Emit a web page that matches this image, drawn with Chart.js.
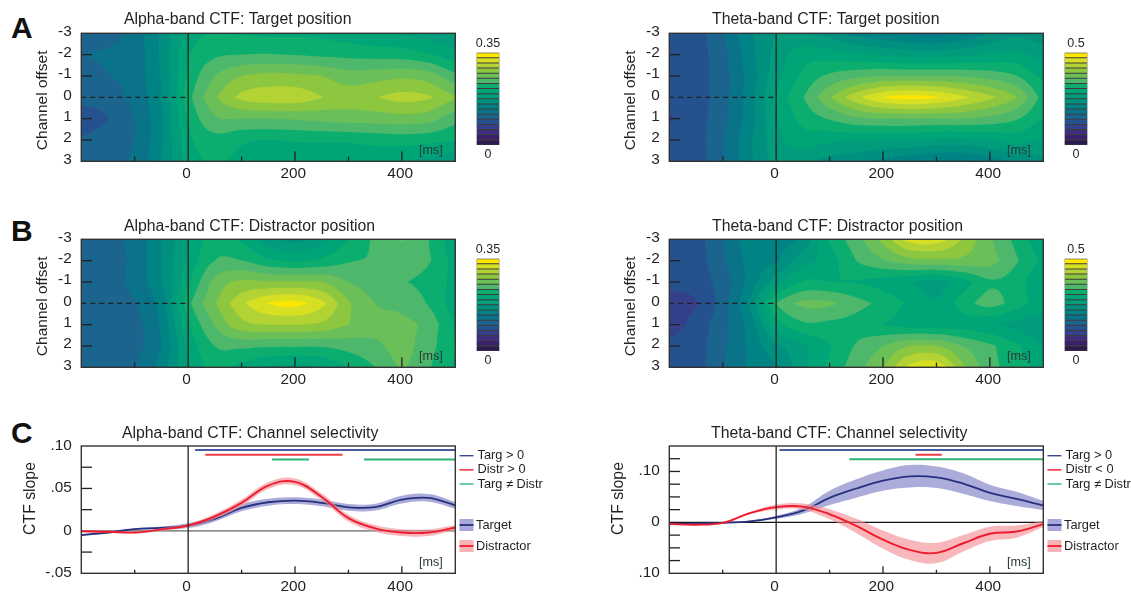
<!DOCTYPE html>
<html><head><meta charset="utf-8">
<style>
html,body{margin:0;padding:0;background:#fff;width:1131px;height:594px;overflow:hidden}
canvas{position:absolute;display:block}
.letter{position:absolute;font:bold 30px "Liberation Sans",Arial,sans-serif;color:#111;line-height:30px}
</style>
<script src="https://cdn.jsdelivr.net/npm/chart.js@4"></script>
</head><body>
<div class="letter" style="left:11px;top:13px">A</div>
<div class="letter" style="left:11px;top:216px">B</div>
<div class="letter" style="left:11px;top:418px">C</div>
<script>
// ---------- heat-map axes ----------
const heatTimes = [-200,-150,-100,-50,0,50,100,150,200,250,300,350,400,450,500];
const heatOffsets = [-3,-2,-1,0,1,2,3];
const alphaMax = 0.35, thetaMax = 0.5, stepCount = 18;
const alphaTargetSteps = [
 [5.5,5.6,6.5,8.2,10.4,11.05,10.9,10.8,10.8,10.7,10.4,10.1,9.9,9.4,9.1],
 [6.0,6.2,6.5,8.2,10.9,11.8,12.0,12.05,11.95,11.8,11.7,11.6,11.5,11.1,10.4],
 [5.6,5.95,6.5,8.1,11.15,13.0,14.0,14.3,14.25,14.0,13.5,13.6,13.8,13.5,12.3],
 [5.3,5.5,6.4,8.0,11.6,13.85,15.3,15.7,15.7,15.05,14.6,14.95,15.4,15.15,14.2],
 [4.5,4.95,6.0,7.9,11.1,12.85,13.0,13.0,13.1,13.3,13.5,13.5,13.6,13.4,12.4],
 [5.1,5.5,6.0,7.9,10.7,11.6,11.1,11.0,11.05,11.1,11.1,11.3,11.4,11.3,11.05],
 [5.4,5.6,6.25,8.0,10.4,11.1,10.7,10.5,10.5,10.4,10.3,10.2,10.0,9.6,9.2]];
const alphaDistractorSteps = [
 [5.5,5.6,6.4,8.0,10.0,11.4,10.8,9.4,8.7,9.5,11.0,12.2,13.05,12.0,10.4],
 [5.5,5.6,6.3,8.0,10.2,12.0,12.0,11.2,10.9,11.2,11.9,12.1,12.5,12.1,10.7],
 [5.4,5.5,6.4,8.0,10.8,13.3,14.2,14.1,14.1,14.0,13.0,12.5,12.1,11.6,10.8],
 [5.4,5.5,5.95,7.5,11.7,13.9,15.75,17.05,17.35,16.3,14.2,13.0,12.7,11.9,10.6],
 [5.4,5.5,5.7,7.2,10.8,13.1,14.7,15.0,15.0,14.8,14.0,13.4,13.3,12.65,10.9],
 [5.4,5.5,5.7,7.0,10.2,12.0,12.2,12.1,12.1,12.1,12.4,12.8,13.3,12.4,11.0],
 [5.4,5.5,5.95,7.5,9.9,11.3,10.6,9.9,9.6,10.0,11.0,12.0,13.05,12.1,10.9]];
const thetaTargetSteps = [
 [4.4,4.6,5.9,7.75,9.0,9.0,8.5,7.6,7.1,6.8,6.6,7.0,8.0,8.7,8.4],
 [4.4,4.6,5.7,7.6,9.3,10.6,10.5,10.2,9.9,9.6,9.6,9.8,10.1,10.3,9.5],
 [4.4,4.6,5.55,7.4,9.6,11.2,12.2,12.7,13.0,13.0,13.0,12.9,12.6,12.0,10.8],
 [4.3,4.6,5.6,7.6,10.2,11.95,13.9,15.7,17.0,17.45,17.1,16.2,15.25,14.05,11.7],
 [3.9,4.6,5.7,7.5,9.9,11.3,12.1,12.8,13.0,13.0,13.0,13.0,12.7,12.1,11.0],
 [4.3,4.6,5.95,7.8,9.6,10.6,10.2,10.1,10.0,10.0,9.7,9.7,10.0,10.4,9.9],
 [4.4,4.6,5.9,7.8,9.3,9.2,8.6,8.2,7.7,7.2,6.9,6.9,7.4,8.2,8.6]];
const thetaDistractorSteps = [
 [4.3,4.6,6.0,7.5,7.5,8.3,11.1,12.6,14.3,16.4,16.5,14.85,13.15,11.7,10.3],
 [4.4,4.6,5.8,7.3,7.9,9.5,10.5,12.0,12.9,13.6,13.8,13.8,13.4,12.1,10.9],
 [4.4,4.5,5.5,7.3,9.5,11.05,11.0,10.9,10.5,10.0,9.6,10.5,11.8,11.4,10.1],
 [3.4,3.9,5.5,8.2,12.0,13.25,13.2,12.4,11.7,10.8,10.1,11.5,12.4,11.5,10.5],
 [3.6,4.4,5.7,7.4,10.5,11.8,11.7,11.5,11.0,10.5,10.4,10.4,10.1,9.6,9.3],
 [4.3,4.6,5.8,7.2,8.7,9.8,10.9,12.1,13.0,14.0,14.0,13.0,12.2,11.2,9.9],
 [4.4,4.6,5.9,7.1,7.9,9.6,11.2,12.6,14.0,16.3,16.8,14.2,12.4,11.5,10.8]];
const colourSteps = ['#2d1a4e','#3c1f6c','#3d2c80','#35408c','#25528f','#1a648e','#0a7389','#008385','#009080','#009c7b','#00a577','#0cae6f','#4db86b','#6bbf59','#8dc63f','#b3d334','#d7df23','#ffe600'];
const channelTickLabels = ['-3','-2','-1','0','1','2','3'];
const timeTickLabels = [0,200,400];
const timeMinorShort = [-100,100,300];
const timeMinorLong = [200,400];

// ---------- channel selectivity ----------
const slopeTimes = [-200,-150,-100,-50,0,50,100,150,200,250,300,350,400,450,500];
const alphaTargetSlope = [-.005,-.002,.002,.0035,.0063,.0141,.027,.0337,.0356,.033,.0278,.028,.0368,.0388,.03];
const alphaTargetError = [.001,.001,.001,.0015,.003,.003,.004,.004,.004,.004,.004,.004,.0045,.0045,.004];
const alphaDistractorSlope = [-.0005,-.001,-.002,.0017,.0063,.0171,.033,.0534,.0578,.04,.015,.003,-.002,-.002,.004];
const alphaDistractorError = [.001,.001,.001,.0015,.002,.003,.004,.004,.004,.004,.004,.004,.004,.004,.003];
const thetaTargetSlope = [-.0026,-.002,-.001,.002,.01,.023,.048,.0665,.082,.0905,.0885,.0763,.058,.046,.033];
const thetaTargetError = [.001,.001,.001,.001,.003,.006,.014,.018,.02,.022,.021,.02,.016,.014,.009];
const thetaDistractorSlope = [-.003,-.0046,-.001,.018,.03,.031,.016,-.007,-.034,-.054,-.06,-.041,-.0224,-.018,-.0033];
const thetaDistractorError = [.001,.001,.001,.002,.005,.006,.01,.014,.018,.02,.02,.016,.014,.012,.006];
const alphaSlopeTicks = [-.05,-.025,0,.025,.05,.075,.1];
const alphaSlopeLabels = {'-0.05':'-.05','0':'0','0.05':'.05','0.1':'.10'};
const thetaSlopeTicks = [-.1,-.075,-.05,-.025,0,.025,.05,.075,.1,.125,.15];
const thetaSlopeLabels = {'-0.1':'.10','0':'0','0.1':'.10'};
const alphaSigRows = [{y:.0953,from:13,to:500,c:'#4a5aa0'},{y:.0897,from:32,to:289,c:'#ed3b45'},{y:.0842,from:157,to:226,c:'#2db673'},{y:.0842,from:329,to:500,c:'#2db673'}];
const thetaSigRows = [{y:.142,from:6,to:500,c:'#4a5aa0'},{y:.133,from:261,to:310,c:'#ed3b45'},{y:.124,from:137,to:500,c:'#2db673'}];

const FONT = '"Liberation Sans",Arial,sans-serif';
const INK = '#231f20';
const AREA = {left:81.3, width:374};

// ---------- plugins ----------
function catmull(p0,p1,p2,p3,f){
  return p1+.5*f*(p2-p0+f*(2*p0-5*p1+4*p2-p3+f*(3*(p1-p2)+p3-p0)));
}
const contourFill = {
  id:'contourFill',
  beforeDatasetsDraw(chart){
    const cfg = chart.options.plugins.contourFill; if(!cfg || !cfg.max) return;
    const a = chart.chartArea, sx = chart.scales.x, sy = chart.scales.y, ss = 3;
    const w = Math.round((a.right-a.left)*ss), h = Math.round((a.bottom-a.top)*ss);
    const off = document.createElement('canvas'); off.width=w; off.height=h;
    const oc = off.getContext('2d'), img = oc.createImageData(w,h);
    const pts = chart.data.datasets[0].data;
    const nc = heatTimes.length, nr = heatOffsets.length;
    const rgb = colourSteps.map(c=>[parseInt(c.slice(1,3),16),parseInt(c.slice(3,5),16),parseInt(c.slice(5,7),16)]);
    // value of each channel row at each output column, smooth along time
    const rowsAtX=[];
    for(let r=0;r<nr;r++){
      const arr=new Float64Array(w);
      for(let i=0;i<w;i++){
        const tv=sx.getValueForPixel(a.left+(i+.5)/ss);
        let c=0; while(c<nc-2 && heatTimes[c+1]<=tv) c++;
        const f=(tv-heatTimes[c])/(heatTimes[c+1]-heatTimes[c]);
        const g=k=>pts[r*nc+Math.max(0,Math.min(nc-1,k))].v;
        arr[i]=catmull(g(c-1),g(c),g(c+1),g(c+2),f);
      }
      rowsAtX.push(arr);
    }
    for(let j=0;j<h;j++){
      const yv = sy.getValueForPixel(a.top+(j+.5)/ss);
      const r = Math.min(nr-2,Math.max(0,Math.floor(yv-heatOffsets[0]))), fy = yv-heatOffsets[r];
      for(let i=0;i<w;i++){
        const v=rowsAtX[r][i]*(1-fy)+rowsAtX[r+1][i]*fy;
        const lev=Math.max(0,Math.min(stepCount-1,Math.floor(v/cfg.max*stepCount)));
        const k=(j*w+i)*4, col=rgb[lev];
        img.data[k]=col[0];img.data[k+1]=col[1];img.data[k+2]=col[2];img.data[k+3]=255;
      }
    }
    oc.putImageData(img,0,0);
    const ctx=chart.ctx; ctx.save(); ctx.imageSmoothingEnabled=true; ctx.imageSmoothingQuality='high';
    ctx.drawImage(off,a.left,a.top,a.right-a.left,a.bottom-a.top); ctx.restore();
  }
};
const panelDecor = {
  id:'panelDecor',
  afterLayout(chart){
    const cfg = chart.options.plugins.panelDecor; if(!cfg||cfg.titleLeft==null) return;
    if(chart.titleBlock){chart.titleBlock.left=cfg.titleLeft; chart.titleBlock.right=chart.width;}
  },
  beforeDatasetsDraw(chart){
    const cfg = chart.options.plugins.panelDecor; if(!cfg||!cfg.zeroColor) return;
    const a=chart.chartArea, ctx=chart.ctx, y=chart.scales.y.getPixelForValue(0);
    ctx.save(); ctx.strokeStyle=cfg.zeroColor; ctx.lineWidth=1.2;
    ctx.beginPath(); ctx.moveTo(a.left,y); ctx.lineTo(a.right,y); ctx.stroke(); ctx.restore();
  },
  afterDatasetsDraw(chart){
    const cfg = chart.options.plugins.panelDecor; if(!cfg||!cfg.frame) return;
    const a=chart.chartArea, ctx=chart.ctx, sx=chart.scales.x, sy=chart.scales.y;
    ctx.save();
    ctx.strokeStyle='#222'; ctx.lineWidth=1.3;
    const x0=sx.getPixelForValue(0);
    ctx.beginPath(); ctx.moveTo(x0,a.top); ctx.lineTo(x0,a.bottom); ctx.stroke();
    timeMinorShort.forEach(t=>{const x=sx.getPixelForValue(t);ctx.beginPath();ctx.moveTo(x,a.bottom);ctx.lineTo(x,a.bottom-cfg.shortTick);ctx.stroke();});
    timeMinorLong.forEach(t=>{const x=sx.getPixelForValue(t);ctx.beginPath();ctx.moveTo(x,a.bottom);ctx.lineTo(x,a.bottom-cfg.longTick);ctx.stroke();});
    cfg.yTicks.forEach(v=>{const y=sy.getPixelForValue(v);ctx.beginPath();ctx.moveTo(a.left,y);ctx.lineTo(a.left+10.7,y);ctx.stroke();});
    if(cfg.dashed){
      const y=sy.getPixelForValue(0);
      ctx.setLineDash([5,4]); ctx.beginPath(); ctx.moveTo(a.left,y); ctx.lineTo(x0,y); ctx.stroke(); ctx.setLineDash([]);
    }
    ctx.strokeStyle='#333'; ctx.lineWidth=1.4;
    ctx.strokeRect(a.left,a.top,a.right-a.left,a.bottom-a.top);
    ctx.textBaseline='middle'; ctx.textAlign='left';
    ctx.font='12.6px '+FONT;
    ctx.fillStyle='#2a3a3a';
    ctx.fillText('[ms]',a.right-36.3,a.bottom-10.6);
    ctx.fillStyle=INK;
    const yt=cfg.yTitle;
    ctx.save(); ctx.translate(yt.x,a.top+yt.dy); ctx.rotate(-Math.PI/2); ctx.textAlign='center';
    ctx.font=yt.size+'px '+FONT; ctx.fillText(yt.text,0,0); ctx.restore();
    if(cfg.legend){
      ctx.font='12.8px '+FONT;
      const L=a.right+4.2;
      cfg.legend.lines.forEach((e,i)=>{
        const y=a.top+9.7+i*14.15;
        ctx.strokeStyle=e.c; ctx.lineWidth=1.4; ctx.beginPath(); ctx.moveTo(L,y); ctx.lineTo(L+14,y); ctx.stroke();
        ctx.fillText(e.t,L+18,y);
      });
      cfg.legend.bands.forEach((e,i)=>{
        const y=a.top+79+i*21;
        ctx.fillStyle=e.b; ctx.fillRect(L,y-6,14,12);
        ctx.strokeStyle=e.c; ctx.lineWidth=1.8; ctx.beginPath(); ctx.moveTo(L,y); ctx.lineTo(L+14,y); ctx.stroke();
        ctx.fillStyle=INK; ctx.fillText(e.t,L+16.5,y);
      });
    }
    ctx.restore();
  }
};
const barDecor = {
  id:'barDecor',
  beforeDatasetsDraw(chart){
    const c=chart.options.plugins.barDecor; if(!c||!c.top) return;
    const a=chart.chartArea, ctx=chart.ctx;
    ctx.save(); ctx.fillStyle='#3c3c3c'; ctx.fillRect(a.left,a.top,a.right-a.left,a.bottom-a.top);
    ctx.fillStyle=INK; ctx.font='12.5px '+FONT; ctx.textAlign='center'; ctx.textBaseline='middle';
    ctx.fillText(c.top,(a.left+a.right)/2,a.top-9.2);
    ctx.fillText('0',(a.left+a.right)/2,a.bottom+9.2);
    ctx.restore();
  }
};
Chart.register(contourFill,panelDecor,barDecor);
Chart.defaults.animation=false;
Chart.defaults.font.family=FONT;
Chart.defaults.color=INK;

function addCanvas(left,top,w,h){
  const c=document.createElement('canvas');
  c.style.left=left+'px'; c.style.top=top+'px'; c.style.width=w+'px'; c.style.height=h+'px';
  c.width=w; c.height=h; document.body.appendChild(c); return c;
}
function baseOptions(opts){
  return {
    responsive:false, animation:false, events:[],
    layout:{padding:{right:opts.w-AREA.left-AREA.width,left:0,top:0,bottom:0}},
    plugins:{
      legend:{display:false}, tooltip:{enabled:false},
      title:{display:true,text:opts.title,align:'start',color:INK,font:{size:15.8,weight:'normal',lineHeight:1.2},
             padding:{top:opts.titleTop,bottom:opts.areaTop-opts.titleTop-18.96}},
      panelDecor:opts.decor, contourFill:opts.contour||{}
    },
    scales:{
      x:{type:'linear',min:-200,max:500,grid:{display:false,drawTicks:false},border:{display:false},
         afterBuildTicks(s){s.ticks=timeTickLabels.map(v=>({value:v}));},
         afterFit(s){s.height=opts.h-opts.areaBottom;},
         ticks:{autoSkip:false,maxRotation:0,padding:opts.xPad,labelOffset:-1.7,font:{size:15.4},color:INK,callback:v=>String(v)}},
      y:{type:'linear',reverse:!!opts.reverse,min:opts.ymin,max:opts.ymax,grid:{display:false,drawTicks:false},border:{display:false},
         afterBuildTicks(s){s.ticks=opts.yLabelTicks.map(v=>({value:v}));},
         afterFit(s){s.width=AREA.left;},
         ticks:{autoSkip:false,padding:9.5,labelOffset:opts.yLabelOffset,font:{size:15.4},color:INK,callback:opts.yFormat}}
    }
  };
}
function heatPanel(left,top,title,titleX,titleTop,steps,max){
  const w=left===0?560:543, h=190;
  const pts=[];
  steps.forEach((row,r)=>row.forEach((s,c)=>pts.push({x:heatTimes[c],y:heatOffsets[r],v:s*max/stepCount})));
  new Chart(addCanvas(left,top,w,h),{
    type:'scatter',
    data:{datasets:[{data:pts,pointRadius:0,showLine:false}]},
    options:baseOptions({w,h,title,titleTop,areaTop:33.3,areaBottom:161.3,xPad:2.8,reverse:true,ymin:-3,ymax:3,
      yLabelTicks:heatOffsets,yLabelOffset:-2,
      yFormat:v=>channelTickLabels[heatOffsets.indexOf(v)],
      contour:{max},
      decor:{titleLeft:titleX-left,frame:true,shortTick:4.7,longTick:10,yTicks:[-2,-1,1,2],dashed:true,
        yTitle:{text:'Channel offset',x:43,dy:67,size:15.5}}})
  });
}
function colourBar(left,top,label){
  const w=60,h=140;
  new Chart(addCanvas(left,top,w,h),{
    type:'bar',
    data:{labels:colourSteps.map((c,i)=>colourSteps.length-1-i),
      datasets:[{data:colourSteps.map(()=>1),backgroundColor:colourSteps.slice().reverse(),categoryPercentage:.8,barPercentage:1,borderWidth:0}]},
    options:{responsive:false,animation:false,events:[],indexAxis:'y',
      layout:{padding:{left:11.7,right:25.7,top:22.7,bottom:25}},
      plugins:{legend:{display:false},tooltip:{enabled:false},title:{display:false},barDecor:{top:label}},
      scales:{x:{display:false,min:0,max:1},y:{display:false}}}
  });
}
function slopePanel(left,top,title,titleX,ymin,ymax,tickVals,labels,tS,tE,dS,dE,sig,legendLines,zeroColor){
  const w=left===0?560:543,h=179;
  const pts=(a,e,s)=>slopeTimes.map((t,i)=>({x:t,y:a[i]+s*e[i]}));
  const ds=[];
  const band=(d,col,order)=>[
    {data:pts(d[0],d[1],1),fill:'+1',backgroundColor:col,borderWidth:0,pointRadius:0,tension:.4,order},
    {data:pts(d[0],d[1],-1),fill:false,borderWidth:0,pointRadius:0,tension:.4,order}];
  ds.push(...band([tS,tE],'rgba(140,140,205,.72)',6));
  ds.push({data:pts(tS,tE,0),borderColor:'#27327f',borderWidth:1.8,pointRadius:0,tension:.4,fill:false,order:5});
  ds.push(...band([dS,dE],'rgba(243,140,146,.62)',4));
  ds.push({data:pts(dS,dE,0),borderColor:'#ed1c2e',borderWidth:1.9,pointRadius:0,tension:.4,fill:false,order:3});
  sig.forEach(s=>ds.push({data:[{x:s.from,y:s.y},{x:s.to,y:s.y}],borderColor:s.c,borderWidth:2,pointRadius:0,fill:false,order:2}));
  new Chart(addCanvas(left,top,w,h),{
    type:'line',data:{datasets:ds},
    options:baseOptions({w,h,title,titleTop:8.7,areaTop:31,areaBottom:158.3,xPad:4.5,ymin,ymax,
      yLabelTicks:Object.keys(labels).map(Number),yLabelOffset:-.5,
      yFormat:v=>labels[String(v)],
      decor:{titleLeft:titleX-left,frame:true,shortTick:3.5,longTick:7,yTicks:tickVals.filter(v=>v!==ymin&&v!==ymax&&v!==0),zeroColor,
        yTitle:{text:'CTF slope',x:31,dy:52.5,size:15.8},
        legend:{lines:legendLines,bands:[{t:'Target',b:'#a9a9d9',c:'#27327f'},{t:'Distractor',b:'#f6b3b6',c:'#ed1c2e'}]}}})
  });
}
const sigLegend = (mid)=>[{t:'Targ > 0',c:'#3a4a98'},{t:mid,c:'#ed1c2e'},{t:'Targ \u2260 Distr',c:'#2db673'}];

heatPanel(0,0,'Alpha-band CTF: Target position',124,9.7,alphaTargetSteps,alphaMax);
heatPanel(588,0,'Theta-band CTF: Target position',712,9.7,thetaTargetSteps,thetaMax);
heatPanel(0,206,'Alpha-band CTF: Distractor position',124,10.7,alphaDistractorSteps,alphaMax);
heatPanel(588,206,'Theta-band CTF: Distractor position',712,10.7,thetaDistractorSteps,thetaMax);
colourBar(465,30,'0.35'); colourBar(1053,30,'0.5');
colourBar(465,236,'0.35'); colourBar(1053,236,'0.5');
slopePanel(0,415,'Alpha-band CTF: Channel selectivity',122,-.05,.1,alphaSlopeTicks,alphaSlopeLabels,alphaTargetSlope,alphaTargetError,alphaDistractorSlope,alphaDistractorError,alphaSigRows,sigLegend('Distr > 0'),'#666');
slopePanel(588,415,'Theta-band CTF: Channel selectivity',711,-.1,.15,thetaSlopeTicks,thetaSlopeLabels,thetaTargetSlope,thetaTargetError,thetaDistractorSlope,thetaDistractorError,thetaSigRows,sigLegend('Distr < 0'),'#111');
</script>
</body></html>
